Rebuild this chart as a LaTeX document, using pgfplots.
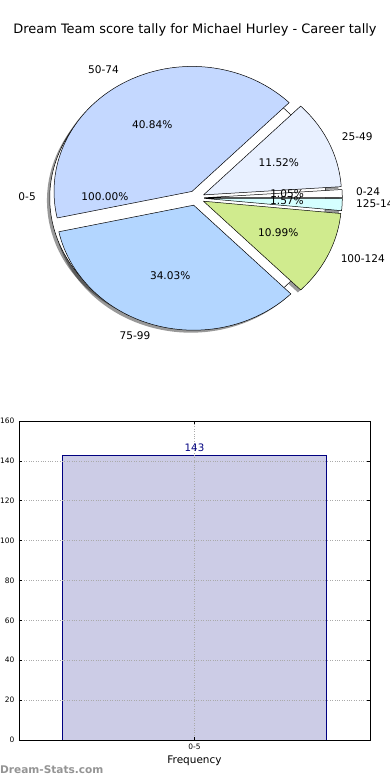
\documentclass[border=0pt]{standalone}
\usepackage{pgfplots}
\pgfplotsset{compat=1.18}
\usepackage{pgfplotstable}
\usepackage{fontspec}
\setmainfont{DejaVu Sans}
\pgfkeys{/pgf/number format/.cd, assume math mode=true}

\definecolor{cA}{RGB}{255,255,255}
\definecolor{cB}{RGB}{232,240,255}
\definecolor{cC}{RGB}{196,216,255}
\definecolor{cD}{RGB}{179,214,255}
\definecolor{cE}{RGB}{208,235,142}
\definecolor{cF}{RGB}{213,255,255}
\definecolor{barfill}{RGB}{204,204,230}
\definecolor{navy}{RGB}{0,0,128}
\definecolor{gridgray}{RGB}{170,170,170}

% pie: share of each score band (percent)
\pgfplotstableread{
lbl     pct    col
0-24    1.05   cA
25-49   11.52  cB
50-74   40.84  cC
75-99   34.03  cD
100-124 10.99  cE
125-149 1.57   cF
}\piedata

\pgfplotstableread{
lbl  pct  col
0-5  100  cA
}\piebase

% bar: frequency
\pgfplotstableread{
x y
0 143
}\bardata

\newcommand\pielabelfont{\fontsize{10.6}{12}\selectfont}

\newcommand\preppie[3]{% #1 table, #2 prefix, #3 explode
  \pgfplotstablegetrowsof{#1}%
  \pgfmathtruncatemacro\pieN{\pgfplotsretval-1}%
  \expandafter\xdef\csname #2N\endcsname{\pieN}%
  \def\pieCum{0}%
  \pgfplotsforeachungrouped \i in {0,...,\pieN}{%
    \pgfplotstablegetelem{\i}{pct}\of{#1}\let\pieP\pgfplotsretval
    \pgfmathsetmacro\pieS{\pieCum*3.6}%
    \pgfmathsetmacro\pieNext{\pieCum+\pieP}%
    \pgfmathsetmacro\pieE{\pieNext*3.6}%
    \pgfmathsetmacro\pieM{(\pieS+\pieE)/2}%
    \pgfmathsetmacro\pieX{#3*cos(\pieM)}%
    \pgfmathsetmacro\pieY{#3*sin(\pieM)}%
    \pgfmathsetmacro\pieLX{(1.1+#3)*cos(\pieM)}%
    \pgfmathsetmacro\pieLY{(1.1+#3)*sin(\pieM)}%
    \pgfmathsetmacro\piePX{(0.6+#3)*cos(\pieM)}%
    \pgfmathsetmacro\piePY{(0.6+#3)*sin(\pieM)}%
    \pgfmathtruncatemacro\pieSide{\pieLX>0 ? 1 : 0}%
    \expandafter\xdef\csname #2S\i\endcsname{\pieS}%
    \expandafter\xdef\csname #2E\i\endcsname{\pieE}%
    \expandafter\xdef\csname #2X\i\endcsname{\pieX}%
    \expandafter\xdef\csname #2Y\i\endcsname{\pieY}%
    \expandafter\xdef\csname #2LX\i\endcsname{\pieLX}%
    \expandafter\xdef\csname #2LY\i\endcsname{\pieLY}%
    \expandafter\xdef\csname #2PX\i\endcsname{\piePX}%
    \expandafter\xdef\csname #2PY\i\endcsname{\piePY}%
    \expandafter\xdef\csname #2P\i\endcsname{\pieP}%
    \ifnum\pieSide=1
      \expandafter\xdef\csname #2An\i\endcsname{west}%
    \else
      \expandafter\xdef\csname #2An\i\endcsname{east}%
    \fi
    \pgfplotstablegetelem{\i}{lbl}\of{#1}%
    \expandafter\xdef\csname #2L\i\endcsname{\pgfplotsretval}%
    \pgfplotstablegetelem{\i}{col}\of{#1}%
    \expandafter\xdef\csname #2C\i\endcsname{\pgfplotsretval}%
    \let\pieCum\pieNext
  }%
}

% shadows, #2=1 joins the arc to the centre
\newcommand\drawshadows[2]{%
  \edef\pieNN{\csname #1N\endcsname}%
  \pgfplotsforeachungrouped \i in {0,...,\pieNN}{%
    \ifnum#2=1
    \edef\pieTmp{%
      \noexpand\fill[black, fill opacity=0.4]
        plot[domain=\csname #1S\i\endcsname:\csname #1E\i\endcsname, samples=80, variable=\noexpand\t]
        ({\csname #1X\i\endcsname-0.02+cos(\noexpand\t)},{\csname #1Y\i\endcsname-0.02+sin(\noexpand\t)})
        -- ({\csname #1X\i\endcsname-0.02},{\csname #1Y\i\endcsname-0.02}) -- cycle;
    }%
    \else
    \edef\pieTmp{%
      \noexpand\fill[black, fill opacity=0.4]
        plot[domain=\csname #1S\i\endcsname:\csname #1E\i\endcsname, samples=160, variable=\noexpand\t]
        ({\csname #1X\i\endcsname-0.02+cos(\noexpand\t)},{\csname #1Y\i\endcsname-0.02+sin(\noexpand\t)}) -- cycle;
    }%
    \fi
    \pieTmp
  }%
}

% wedges, #2=1 joins the arc to the centre
\newcommand\drawwedges[2]{%
  \edef\pieNN{\csname #1N\endcsname}%
  \pgfplotsforeachungrouped \i in {0,...,\pieNN}{%
    \ifnum#2=1
    \edef\pieTmp{%
      \noexpand\filldraw[fill=\csname #1C\i\endcsname, draw=black, line width=0.5pt, line join=round]
        plot[domain=\csname #1S\i\endcsname:\csname #1E\i\endcsname, samples=80, variable=\noexpand\t]
        ({\csname #1X\i\endcsname+cos(\noexpand\t)},{\csname #1Y\i\endcsname+sin(\noexpand\t)})
        -- ({\csname #1X\i\endcsname},{\csname #1Y\i\endcsname}) -- cycle;
    }%
    \else
    \edef\pieTmp{%
      \noexpand\filldraw[fill=\csname #1C\i\endcsname, draw=black, line width=0.5pt]
        plot[domain=\csname #1S\i\endcsname:\csname #1E\i\endcsname, samples=160, variable=\noexpand\t]
        ({\csname #1X\i\endcsname+cos(\noexpand\t)},{\csname #1Y\i\endcsname+sin(\noexpand\t)}) -- cycle;
    }%
    \fi
    \pieTmp
  }%
}

\newcommand\drawtexts[1]{%
  \edef\pieNN{\csname #1N\endcsname}%
  \pgfplotsforeachungrouped \i in {0,...,\pieNN}{%
    \edef\pieTmp{%
      \noexpand\node[anchor=\csname #1An\i\endcsname, font=\noexpand\pielabelfont, inner sep=0pt, text height=0.76em, text depth=0.24em]
        at (\csname #1LX\i\endcsname,\csname #1LY\i\endcsname) {\csname #1L\i\endcsname};
      \noexpand\node[font=\noexpand\pielabelfont, inner sep=0pt, text height=0.76em, text depth=0.24em]
        at (\csname #1PX\i\endcsname,\csname #1PY\i\endcsname)
        {\noexpand\pgfmathprintnumber[fixed,fixed zerofill,precision=2]{\csname #1P\i\endcsname}\noexpand\%};
    }%
    \pieTmp
  }%
}

\begin{document}
\preppie{\piebase}{pb}{0.06}%
\preppie{\piedata}{pd}{0.06}%
\begin{tikzpicture}
\useasboundingbox (0,0) rectangle (390bp,780bp);

\node[font=\fontsize{13}{15}\selectfont] at (195bp,750bp)
  {Dream Team score tally for Michael Hurley - Career tally};

\begin{axis}[
  at={(0bp,420bp)}, anchor=south west,
  scale only axis, width=390bp, height=320bp,
  xmin=-1.4203, xmax=1.4058, ymin=-1.296, ymax=1.264,
  hide axis, clip=false,
]
\drawshadows{pb}{0}
\drawshadows{pd}{1}
\drawwedges{pb}{0}
\drawwedges{pd}{1}
\drawtexts{pb}
\drawtexts{pd}
\end{axis}

\begin{axis}[
  at={(19bp,40bp)}, anchor=south west,
  scale only axis, width=351bp, height=319bp,
  xmin=-0.532, xmax=0.532, ymin=0, ymax=160,
  ytick={0,20,...,160}, xtick={0}, xticklabels={0-5},
  grid=major, grid style={gridgray, dotted, line width=0.7pt},
  axis on top,
  tick align=inside, major tick length=3bp,
  tick style={black, line width=0.5pt},
  ticklabel style={font=\fontsize{7.5}{8}\selectfont},
  yticklabel style={xshift=-1bp},
  xlabel={Frequency},
  xlabel style={font=\fontsize{10.5}{12}\selectfont},
  axis line style={black, line width=0.8pt},
  nodes near coords,
  nodes near coords style={text=navy, font=\fontsize{10.3}{12}\selectfont},
]
\addplot[ybar, bar width=0.8, fill=barfill, draw=navy, line width=0.6pt]
  table[x=x, y=y] {\bardata};
\end{axis}

\node[anchor=west, inner sep=0pt, font=\bfseries\fontsize{10.6}{12}\selectfont, text=black!42]
  at (0bp,10bp) {Dream-Stats.com};
\end{tikzpicture}
\end{document}
